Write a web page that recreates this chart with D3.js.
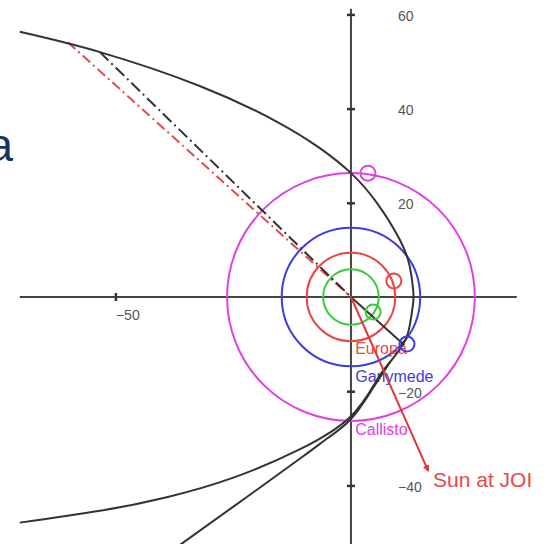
<!DOCTYPE html>
<html>
<head>
<meta charset="utf-8">
<script src="https://cdn.jsdelivr.net/npm/d3@7"></script>
<style>
  body { margin: 0; background: #fff; }
  text { font-family: "Liberation Sans", Arial, sans-serif; }
</style>
</head>
<body>
<div id="chart"></div>
<script>
var svgWidth = 554;
var svgHeight = 544;

// tick values
var xTicks = [-50];
var yTicks = [60, 40, 20, -20, -40];

// moon orbits (Jupiter radii) and moon positions at JOI
var moonNames = ["Io", "Europa", "Ganymede", "Callisto"];
var moonColors = ["#3cc83c", "#e84848", "#3c3ce0", "#e040e4"];
var orbitRadius = [5.9, 9.4, 14.7, 26.3];
var moonX = [4.7, 9.1, 11.9, 3.6];
var moonY = [-3.2, 3.4, -10.0, 26.3];

// labels under the origin
var labelNames = ["Europa", "Ganymede", "Callisto"];
var labelColors = ["#e84848", "#3c3ce0", "#e040e4"];
var labelY = [-12.2, -18.1, -29.4];

// approach trajectory, then the second outbound branch
var trajX = [-70.3, -53.3, -32.1, -15.7, -6.6, 0, 5.5, 10.4, 12.5, 13.2, 13.2, 12.5, 11.3, 8.3, 5.5, 0, -10.8, -25.1, -39.1, -53.3, -70.3];
var trajY = [56.3, 52.0, 44.8, 37.2, 31.6, 26.3, 20.0, 12.1, 6.4, 1.5, -1.3, -5.9, -9.6, -13.8, -17.6, -25.3, -32.3, -38.4, -42.5, -45.4, -47.9];
var branchX = [8.3, 4.5, 0, -5, -10.8, -25.1, -35.7, -39];
var branchY = [-13.8, -19.6, -25.9, -30.0, -34.3, -44.6, -52.2, -54.5];

// direction lines
var earthLine = [[-60.1, 54.1], [0, 0]];
var asymptote = [[-53.3, 52.0], [0, 0]];
var toGanymede = [[0, 0], [11.3, -10.2]];
var sunLine = [[0, 0], [16.4, -36.9]];

var svg = d3.select("#chart")
    .append("svg")
    .attr("width", svgWidth)
    .attr("height", svgHeight);

var x = d3.scaleLinear().domain([-74.5, 43.1]).range([0, svgWidth]);
var y = d3.scaleLinear().domain([63.06, -52.44]).range([0, svgHeight]);
var unit = x(1) - x(0);

svg.append("defs").append("marker")
    .attr("id", "arrow")
    .attr("viewBox", "0 0 10 10")
    .attr("refX", 8)
    .attr("refY", 5)
    .attr("markerWidth", 3.5)
    .attr("markerHeight", 3.5)
    .attr("orient", "auto")
    .append("path")
    .attr("d", "M0,0 L10,5 L0,10 z")
    .attr("fill", "#e03838");

// slide text cut at the left edge
svg.append("text")
    .attr("x", 13)
    .attr("y", 161)
    .attr("text-anchor", "end")
    .attr("font-size", 46)
    .attr("fill", "#17375e")
    .text("a");

// axes
svg.append("line")
    .attr("x1", x(-70.3)).attr("x2", x(35.2))
    .attr("y1", y(0)).attr("y2", y(0))
    .attr("stroke", "#444").attr("stroke-width", 2);
svg.append("line")
    .attr("x1", x(0)).attr("x2", x(0))
    .attr("y1", y(61.2)).attr("y2", y(-53))
    .attr("stroke", "#444").attr("stroke-width", 2);

var yAxis = svg.append("g")
    .attr("transform", `translate(${x(0)}, 0)`)
    .call(d3.axisRight(y).tickValues(yTicks).tickSize(4).tickPadding(43).tickFormat(d3.format("d")));
var xAxis = svg.append("g")
    .attr("transform", `translate(0, ${y(0)})`)
    .call(d3.axisBottom(x).tickValues(xTicks).tickSize(4).tickPadding(9).tickFormat(d3.format("d")));

[xAxis, yAxis].forEach(function(g) {
    g.select(".domain").remove();
    g.selectAll(".tick line").attr("stroke", "#333").attr("stroke-width", 2.5);
    g.selectAll("text").attr("font-size", 14).attr("fill", "#555");
});
yAxis.selectAll(".tick line").attr("x1", -4);
yAxis.selectAll("text").attr("dy", "0.42em");
xAxis.selectAll(".tick line").attr("y1", -4);
xAxis.selectAll("text").attr("text-anchor", "start").attr("x", 0);

// orbits
svg.selectAll(".orbit")
    .data(orbitRadius)
    .enter()
    .append("circle")
    .attr("class", "orbit")
    .attr("cx", x(0))
    .attr("cy", y(0))
    .attr("r", d => d * unit)
    .attr("fill", "none")
    .attr("stroke", (d, i) => moonColors[i])
    .attr("stroke-width", 2);

// moon labels
svg.selectAll(".moonLabel")
    .data(labelNames)
    .enter()
    .append("text")
    .attr("class", "moonLabel")
    .attr("x", x(0.9))
    .attr("y", (d, i) => y(labelY[i]))
    .attr("font-size", 16)
    .attr("fill", (d, i) => labelColors[i])
    .text(d => d);

var line = d3.line()
    .x(d => x(d[0]))
    .y(d => y(d[1]));

svg.append("path")
    .datum(earthLine)
    .attr("d", line)
    .attr("fill", "none")
    .attr("stroke", "#e84848")
    .attr("stroke-width", 2)
    .attr("stroke-dasharray", "10,4,2,4");

svg.append("path")
    .datum(asymptote)
    .attr("d", line)
    .attr("fill", "none")
    .attr("stroke", "#333")
    .attr("stroke-width", 2)
    .attr("stroke-dasharray", "12,4,2,4");

svg.append("path")
    .datum(toGanymede)
    .attr("d", line)
    .attr("fill", "none")
    .attr("stroke", "#333")
    .attr("stroke-width", 2);

var curve = d3.line()
    .x(d => x(d[0]))
    .y(d => y(d[1]))
    .curve(d3.curveNatural);

svg.append("path")
    .datum(trajX.map((d, i) => [d, trajY[i]]))
    .attr("d", curve)
    .attr("fill", "none")
    .attr("stroke", "#333")
    .attr("stroke-width", 2);

svg.append("path")
    .datum(branchX.map((d, i) => [d, branchY[i]]))
    .attr("d", curve)
    .attr("fill", "none")
    .attr("stroke", "#333")
    .attr("stroke-width", 2);

// moons
svg.selectAll(".moon")
    .data(moonNames)
    .enter()
    .append("circle")
    .attr("class", "moon")
    .attr("cx", (d, i) => x(moonX[i]))
    .attr("cy", (d, i) => y(moonY[i]))
    .attr("r", 7.5)
    .attr("fill", "none")
    .attr("stroke", (d, i) => moonColors[i])
    .attr("stroke-width", 2);

// sun direction
svg.append("path")
    .datum(sunLine)
    .attr("d", line)
    .attr("stroke", "#e03838")
    .attr("stroke-width", 2)
    .attr("marker-end", "url(#arrow)");

svg.append("text")
    .attr("x", 433)
    .attr("y", 487)
    .attr("font-size", 21)
    .attr("fill", "#e84848")
    .text("Sun at JOI");
</script>
</body>
</html>
